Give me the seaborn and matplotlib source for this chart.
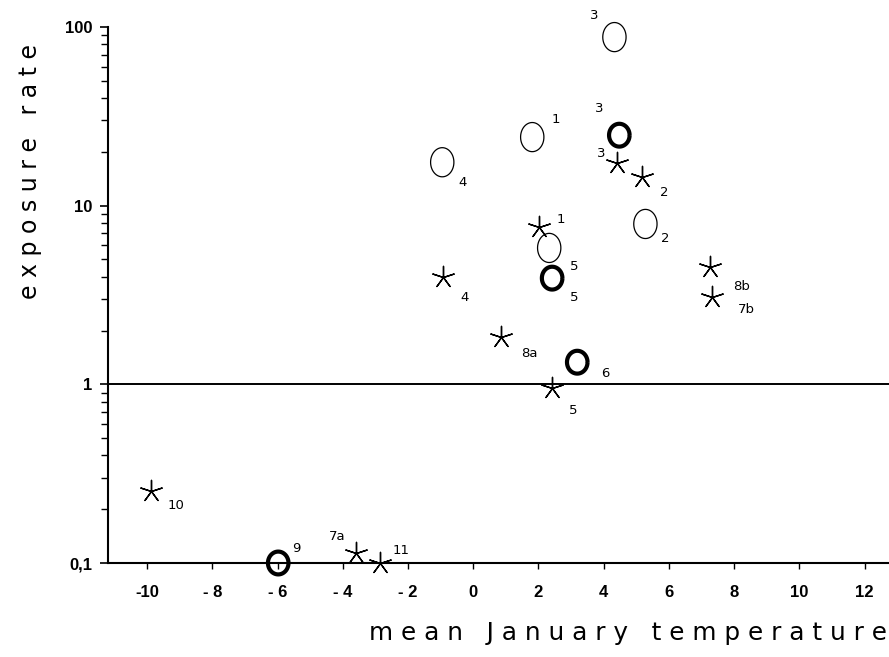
import numpy as np
import pandas as pd
import matplotlib
matplotlib.use('Agg')
import matplotlib.pyplot as plt
from matplotlib.path import Path
import matplotlib.ticker as mticker
import seaborn as sns

# data
thin_x = [4.33, 1.81, -0.95, 5.28, 2.33]
thin_y = [87.8, 24.2, 17.5, 7.9, 5.8]
thin_lab = ['3', '1', '4', '2', '5']

bold_x = [4.48, 2.42, 3.19, -5.98]
bold_y = [24.8, 3.93, 1.33, 0.1]
bold_lab = ['3', '5', '6', '9']

star_x = [4.42, 5.18, 2.02, -0.92, 7.27, 7.33, 0.86, 2.42, -9.88, -3.59, -2.85]
star_y = [17.3, 14.5, 7.6, 3.99, 4.53, 3.08, 1.84, 0.95, 0.253, 0.114, 0.1]
star_lab = ['3', '2', '1', '4', '8b', '7b', '8a', '5', '10', '7a', '11']

xticks = [-10, -8, -6, -4, -2, 0, 2, 4, 6, 8, 10, 12]
xtick_labels = ['-10', '- 8', '- 6', '- 4', '- 2', '0', '2', '4', '6', '8', '10', '12']
yticks = [0.1, 1, 10, 100]
ytick_labels = ['0,1', '1', '10', '100']

# label offsets (pixels) for each point's number
thin_off = [(-20, 22), (24, 18), (20, -20), (20, -15), (25, -19)]
bold_off = [(-20, 27), (22, -19), (28, -11), (18, 15)]
star_off = [(-16, 10), (22, -16), (22, 7), (21, -21), (31, -19), (34, -12),
            (28, -16), (21, -22), (25, -15), (-19, 16), (21, 13)]

sns.set_style('ticks')
plt.rcParams['font.family'] = ['Liberation Sans', 'DejaVu Sans']
plt.rcParams['text.color'] = 'black'

fig = plt.figure(figsize=(8.89, 6.57), dpi=100)
ax = fig.add_axes([108 / 889, 94 / 657, 781 / 889, 536 / 657])

t = np.linspace(0, 2 * np.pi, 60)
oval = Path(np.column_stack([0.8 * np.cos(t), np.sin(t)]))
round_o = Path(np.column_stack([0.9 * np.cos(t), np.sin(t)]))

thin = pd.DataFrame({'x': thin_x, 'y': thin_y})
bold = pd.DataFrame({'x': bold_x, 'y': bold_y})
star = pd.DataFrame({'x': star_x, 'y': star_y})

sns.scatterplot(data=thin, x='x', y='y', marker=oval, s=440, clip_on=False,
                facecolor='none', edgecolor='black', linewidth=0.9, ax=ax, zorder=3)
sns.scatterplot(data=bold, x='x', y='y', marker=round_o, s=270, clip_on=False,
                facecolor='none', edgecolor='black', linewidth=3.0, ax=ax, zorder=3)
sns.scatterplot(data=star, x='x', y='y', marker=(5, 2, 0), s=256, clip_on=False,
                color='black', linewidth=1.0, ax=ax, zorder=3)

for xs, ys, labs, offs in [(thin_x, thin_y, thin_lab, thin_off),
                           (bold_x, bold_y, bold_lab, bold_off),
                           (star_x, star_y, star_lab, star_off)]:
    for x, y, lab, off in zip(xs, ys, labs, offs):
        ax.annotate(lab, (x, y), xytext=off, textcoords='offset pixels',
                    ha='center', va='center', fontsize=9.5, family='DejaVu Sans')

ax.axhline(1, color='black', linewidth=1.4, zorder=2)

ax.set_yscale('log')
ax.set_ylim(0.1, 100)
ax.set_xlim(-11.2, 12.75)
ax.set_xticks(xticks)
ax.set_xticklabels(xtick_labels, fontsize=12, fontweight='bold')
ax.set_yticks(yticks)
ax.set_yticklabels(ytick_labels, fontsize=12, fontweight='bold')
ax.yaxis.set_minor_locator(mticker.LogLocator(base=10, subs=np.arange(2, 10)))
ax.yaxis.set_minor_formatter(mticker.NullFormatter())
ax.tick_params(axis='y', which='major', length=6, width=1.2, pad=5, colors='black')
ax.tick_params(axis='y', which='minor', length=5, width=1.0, colors='black')
ax.tick_params(axis='x', length=4, width=1.0, pad=12, colors='black')

sns.despine(ax=ax)
for sp in ['left', 'bottom']:
    ax.spines[sp].set_color('black')
    ax.spines[sp].set_linewidth(1.5)
ax.set_xlabel('')
ax.set_ylabel('')

ax.text(-0.1, 0.73, 'e x p o s u r e   r a t e', transform=ax.transAxes,
        rotation=90, ha='center', va='center', fontsize=17, family='DejaVu Sans',
        color='black')
ax.text(0.997, -0.13, 'm e a n   J a n u a r y   t e m p e r a t u r e',
        transform=ax.transAxes, ha='right', va='center', fontsize=17.8,
        family='DejaVu Sans', color='black')

fig.savefig('out.png', dpi=100)
